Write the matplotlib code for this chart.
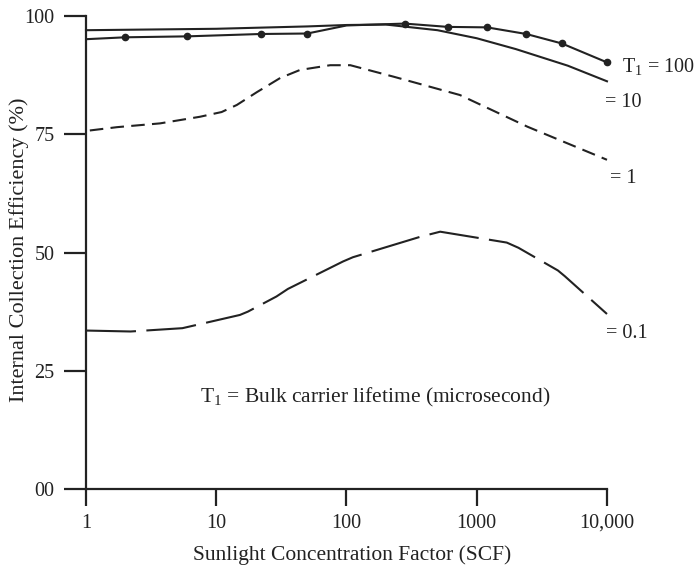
"""Internal collection efficiency vs. sunlight concentration factor for several bulk carrier lifetimes."""

import matplotlib
matplotlib.use("Agg")
import matplotlib.pyplot as plt
from matplotlib.ticker import FixedLocator, NullLocator

plt.rcParams["font.family"] = ["Liberation Serif", "DejaVu Serif"]
plt.rcParams["mathtext.fontset"] = "custom"
plt.rcParams["mathtext.rm"] = "Liberation Serif"

INK = "#222222"

# T1 = 100 us (solid, with data dots)
scf_t100 = [1, 2, 6, 22, 50, 100, 280, 600, 1200, 2400, 4500, 10000]
eff_t100 = [95.1, 95.5, 95.7, 96.2, 96.3, 98.0, 98.4, 97.7, 97.6, 96.2, 94.2, 90.2]
dots_t100 = [1, 2, 3, 4, 6, 7, 8, 9, 10, 11]

# T1 = 10 us (plain solid)
scf_t10 = [1, 10, 50, 100, 200, 500, 1000, 2000, 5000, 10000]
eff_t10 = [97.0, 97.3, 97.8, 98.1, 98.2, 97.0, 95.3, 93.0, 89.5, 86.2]

# T1 = 1 us (short dashes)
scf_t1 = [1.07, 1.73, 3.7, 7.5, 11, 14.4, 20.5, 31, 44, 75, 107, 228, 742, 2450, 10000]
eff_t1 = [75.8, 76.5, 77.3, 78.7, 79.7, 81.2, 83.9, 86.9, 88.6, 89.6, 89.6, 87.2, 83.3, 76.6, 69.6]

# T1 = 0.1 us (long dashes)
scf_t01 = [1, 2.2, 5.5, 15.2, 17.5, 29, 35.5, 94, 112, 366, 524, 1700, 2090, 4200, 4740, 10000]
eff_t01 = [33.5, 33.3, 34.0, 36.8, 37.5, 40.7, 42.3, 48.1, 49.0, 53.3, 54.4, 52.1, 51.0, 46.2, 45.0, 37.0]

x_ticks = [1, 10, 100, 1000, 10000]
x_tick_labels = ["1", "10", "100", "1000", "10,000"]
y_ticks = [0, 25, 50, 75, 100]
y_tick_labels = ["00", "25", "50", "75", "100"]

fig = plt.figure(figsize=(6.98, 5.68), dpi=100)
ax = fig.add_axes([0.1232, 0.1391, 0.7464, 0.8327])

lw = 1.5
ax.plot(scf_t100, eff_t100, color=INK, lw=lw, marker="o", ms=4.5,
        markevery=dots_t100, clip_on=False, solid_capstyle="round")
ax.plot(scf_t10, eff_t10, color=INK, lw=lw, clip_on=False)
ax.plot(scf_t1, eff_t1, color=INK, lw=lw, dashes=(6.5, 3.5), clip_on=False)
ax.plot(scf_t01, eff_t01, color=INK, lw=lw, dashes=(24, 5), clip_on=False)

ax.set_xscale("log")
ax.set_xlim(1, 10000)
ax.set_ylim(0, 100)

ax.xaxis.set_major_locator(FixedLocator(x_ticks))
ax.xaxis.set_minor_locator(NullLocator())
ax.set_xticklabels(x_tick_labels)
ax.set_yticks(y_ticks)
ax.set_yticklabels(y_tick_labels)

for side in ("top", "right"):
    ax.spines[side].set_visible(False)
for side in ("left", "bottom"):
    ax.spines[side].set_color(INK)
    ax.spines[side].set_linewidth(1.6)

ax.tick_params(axis="x", direction="out", length=12, width=1.6, color=INK,
               pad=6, labelsize=14.5, labelcolor=INK)
ax.tick_params(axis="y", direction="out", length=16, width=1.6, color=INK,
               pad=6.5, labelsize=14.5, labelcolor=INK)

# axis titles placed in figure coordinates
fig.text(352 / 698, 1 - 555 / 568, "Sunlight Concentration Factor (SCF)",
         fontsize=15.5, color=INK, ha="center", va="center")
fig.text(19 / 698, 1 - 250 / 568, "Internal Collection Efficiency (%)",
         fontsize=16, color=INK, ha="center", va="center", rotation=90)

# curve labels at the right-hand end
lab = dict(fontsize=14.5, color=INK, va="center", ha="left",
           transform=ax.get_yaxis_transform())
ax.text(1.029, 89.4, r"$\mathregular{T_1}$ = 100", **lab)
ax.text(0.996, 81.7, "= 10", **lab)
ax.text(1.006, 65.6, "= 1", **lab)
ax.text(0.998, 32.8, "= 0.1", **lab)

ax.text(0.218, 19.3, r"$\mathregular{T_1}$ = Bulk carrier lifetime (microsecond)",
        transform=ax.get_yaxis_transform(), fontsize=15.5, color=INK,
        va="center", ha="left")

fig.savefig("out.png", dpi=100)
